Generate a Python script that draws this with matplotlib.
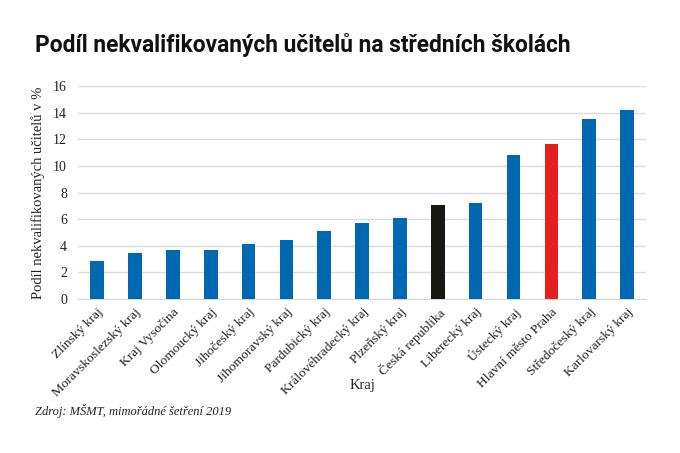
import matplotlib
matplotlib.use("Agg")
import matplotlib.pyplot as plt

categories = ["Zlínský kraj", "Moravskoslezský kraj", "Kraj Vysočina", "Olomoucký kraj",
              "Jihočeský kraj", "Jihomoravský kraj", "Pardubický kraj", "Královéhradecký kraj",
              "Plzeňský kraj", "Česká republika", "Liberecký kraj", "Ústecký kraj",
              "Hlavní město Praha", "Středočeský kraj", "Karlovarský kraj"]
values = [2.85, 3.43, 3.67, 3.71, 4.1, 4.4, 5.08, 5.73, 6.06, 7.08, 7.18, 10.84, 11.63, 13.56, 14.2]
yticks = [0, 2, 4, 6, 8, 10, 12, 14, 16]

BLUE = "#0067b1"
RED = "#e3201b"
BLACK = "#181712"
colors = [BLACK if c == "Česká republika" else RED if c == "Hlavní město Praha" else BLUE
          for c in categories]

fig = plt.figure(figsize=(6.8, 4.53), dpi=100)
ax = fig.add_axes([0.115, 0.34, 0.835, 0.47])
x = list(range(len(categories)))
ax.bar(x, values, width=0.36, color=colors, zorder=3)
ax.set_xlim(-0.5, 14.5)
ax.set_ylim(0, 16)
ax.set_yticks(yticks)
ax.yaxis.grid(True, color="#dcdcdc", linewidth=1, zorder=0)
for s in ["top", "right", "left"]:
    ax.spines[s].set_visible(False)
ax.spines["bottom"].set_color("#d9d9d9")
ax.tick_params(length=0)
ax.set_xticks(x)
ax.set_xticklabels(categories, rotation=45, ha="right", rotation_mode="anchor",
                   fontfamily="Liberation Serif", fontsize=9.7, color="#222222")
for lbl in ax.get_yticklabels():
    lbl.set_fontfamily("Liberation Serif")
    lbl.set_fontsize(10)
    lbl.set_color("#222222")
ax.tick_params(axis="y", pad=8)
ax.tick_params(axis="x", pad=5)
ax.set_ylabel("Podíl nekvalifikovaných učitelů v %", fontfamily="Liberation Serif",
              fontsize=10.5, color="#222222", labelpad=6)

fig.text(0.514, 0.15, "Kraj", fontfamily="Liberation Serif", fontsize=10.5,
         color="#222222", ha="left", va="center")
fig.text(0.051, 0.9, "Podíl nekvalifikovaných učitelů na středních školách",
         fontfamily="Roboto", fontweight="bold", fontsize=16.4, color="#111111",
         ha="left", va="center")
fig.text(0.051, 0.093, "Zdroj: MŠMT, mimořádné šetření 2019", fontfamily="Liberation Serif",
         fontstyle="italic", fontsize=9, color="#222222", ha="left", va="center")

fig.savefig("out.png", dpi=100, facecolor="white")
